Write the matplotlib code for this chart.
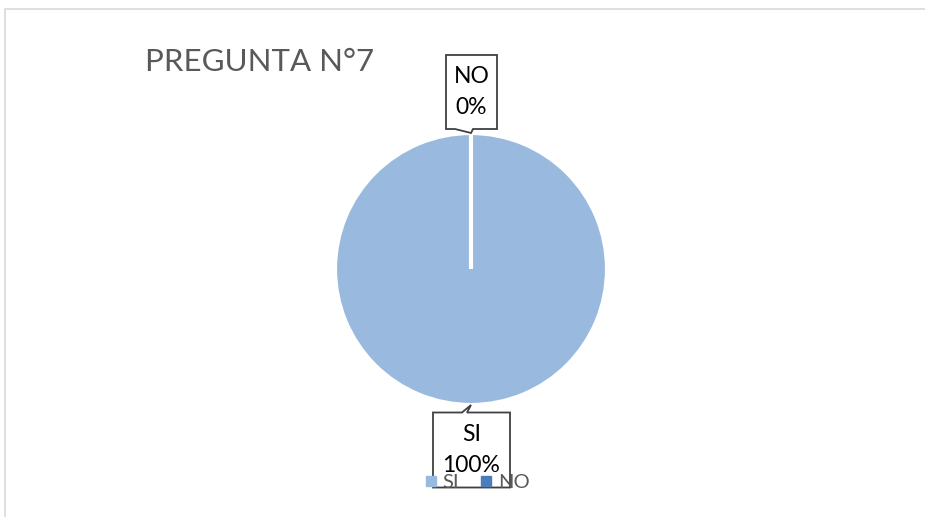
import matplotlib.pyplot as plt
from matplotlib.patches import Polygon
from matplotlib.lines import Line2D
import numpy as np

plt.rcParams['font.family'] = ['Lato', 'DejaVu Sans']

# données
labels = ["SI", "NO"]
values = [100, 0]
colors = ["#9AB9DF", "#4A7EBB"]
title = "PREGUNTA N°7"

W, H = 925, 517
cx, cy, r = 471, 248, 136

fig = plt.figure(figsize=(W / 100, H / 100), dpi=100)
ax = fig.add_axes([0, 0, 1, 1])

wedges, _ = ax.pie(values, colors=colors, startangle=90, counterclock=False,
                   center=(cx, cy), radius=r,
                   wedgeprops=dict(edgecolor="white", linewidth=3))
ax.set_xlim(0, W)
ax.set_ylim(0, H)
ax.set_aspect("equal")
ax.axis("off")

# cadre du graphique (seulement haut et gauche visibles)
fig.lines.append(Line2D([5 / W, 5 / W, 1.1], [-0.1, 1 - 9 / H, 1 - 9 / H],
                        transform=fig.transFigure, color="#D9D9D9", linewidth=1.2))

fig.text(145 / W, 1 - 62 / H, title, fontsize=22.5, color="#595959",
         ha="left", va="center")


def callout(tip, box, w, h, above):
    # boîte avec pointe vers le secteur
    tx, ty = tip
    bx, by = box
    l, rr = bx - w / 2, bx + w / 2
    b, t = by - h / 2, by + h / 2
    if above:
        pts = [(l, t), (rr, t), (rr, b), (tx + 2, b), tip, (tx - 16, b), (l, b)]
    else:
        pts = [(l, b), (rr, b), (rr, t), (tx - 4, t), tip, (tx - 9, t), (l, t)]
    ax.add_patch(Polygon(pts, closed=True, facecolor="white",
                         edgecolor="#404040", linewidth=1.3, zorder=3))


total = sum(values)
for wdg, lab, v in zip(wedges, labels, values):
    mid = np.deg2rad((wdg.theta1 + wdg.theta2) / 2)
    tip = (cx + r * np.cos(mid), cy + r * np.sin(mid))
    above = np.sin(mid) > 0
    if above:
        box = (tip[0] + 0.5, tip[1] + 41)
        w, h = 51, 74
    else:
        box = (tip[0] + 0.5, tip[1] - 45)
        w, h = 77, 75
    callout(tip, box, w, h, above)
    ax.text(box[0], box[1], f"{lab}\n{100 * v / total:.0f}%", fontsize=16.5,
            ha="center", va="center", linespacing=1.55, color="black", zorder=4)

handles = [Line2D([], [], marker="s", linestyle="none", markersize=7,
                  markerfacecolor=c, markeredgecolor=c) for c in colors]
leg = ax.legend(handles, labels, loc="center", bbox_to_anchor=(476 / W, 1 - 482 / H),
                ncol=2, frameon=False, fontsize=14.5, handletextpad=0.2,
                columnspacing=0.9, handlelength=0.8, labelcolor="#595959")
leg.set_zorder(5)

fig.savefig("out.png", dpi=100)
